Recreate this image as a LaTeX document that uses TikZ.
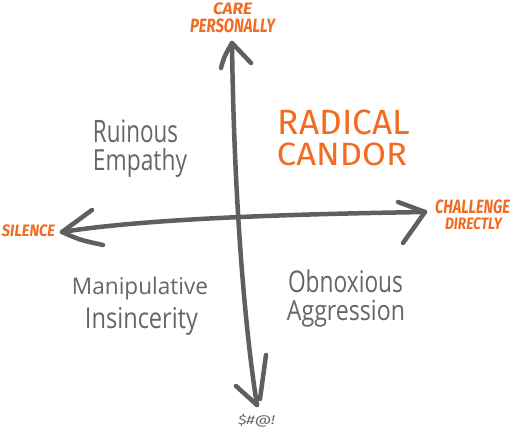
\documentclass[tikz,border=0pt]{standalone}
\usepackage{fontspec}
\usepackage{graphicx}
\setmainfont{Open Sans}
\newfontfamily\labelfont{Fira Sans}
\definecolor{candor}{HTML}{F26B21}
\definecolor{axisgray}{HTML}{5F5F5F}
\definecolor{textgray}{HTML}{666666}
\newcommand{\fitline}[3]{\resizebox*{#1pt}{#2pt}{#3}}
\tikzset{
  axis/.style={draw=axisgray, line width=4.5pt, line cap=round, line join=round},
  axislabel/.style={inner sep=0pt, text=candor, font=\labelfont\bfseries\itshape},
  quad/.style={inner sep=0pt, text=textgray, font=\rmfamily},
  big/.style={inner sep=0pt, text=candor, font=\labelfont}
}
\begin{document}
\begin{tikzpicture}[x=1pt,y=-1pt]
\useasboundingbox (0,0) rectangle (512,433);
\fill[white] (0,0) rectangle (512,433);
% axis end points
\coordinate (top) at (232,43);
\coordinate (bot) at (257,405);
\coordinate (left) at (62,232);
\coordinate (right) at (425,212);
\coordinate (tl) at (221,68);
\coordinate (tr) at (251,63);
\coordinate (bl) at (236,386);
\coordinate (br) at (266,355);
\coordinate (brend) at (260,399);
\coordinate (lu) at (92,210);
\coordinate (ll) at (103,245);
\coordinate (ru) at (398,202);
\coordinate (rl) at (403,243);
% axes
\draw[axis] (top) .. controls (234,200) and (245,330) .. (bot);
\draw[axis] (tl) .. controls (224,57) .. (top) -- (tr);
\draw[axis] (bl) -- (bot);
\draw[axis] (br) -- (brend);
\draw[axis] (left) .. controls (150,218) and (300,214) .. (right);
\draw[axis] (lu) -- (left) .. controls (80,240) .. (ll);
\draw[axis] (ru) -- (right) -- (rl);
% axis labels
\node[axislabel] (care) at (232.5,9) {\fitline{39}{12}{CARE}};
\node[axislabel] (pers) at (232.5,25.5) {\fitline{85}{14}{PERSONALLY}};
\node[axislabel] (sil) at (28.5,231) {\fitline{53}{12}{SILENCE}};
\node[axislabel] (chal) at (472.5,207) {\fitline{75}{14}{CHALLENGE}};
\node[axislabel] (dir) at (473.5,224) {\fitline{57}{12}{DIRECTLY}};
\node[inner sep=0pt, text=textgray, font=\labelfont\itshape] (swear) at (256.5,421) {\fitline{37}{13}{\$\#@!}};
% title
\node[big] (rad) at (344,122.5) {\fitline{132}{25}{RADICAL}};
\node[big] (can) at (342,154) {\fitline{130}{23}{CANDOR}};
% quadrants
\node[quad] (ruin) at (135.5,131.5) {\fitline{85}{23}{Ruinous}};
\node[quad] (emp) at (140,162.5) {\fitline{94}{29}{Empathy}};
\node[quad] (man) at (140,288.5) {\fitline{136}{23}{Manipulative}};
\node[quad] (ins) at (141.5,321) {\fitline{113}{28}{Insincerity}};
\node[quad] (obn) at (345.5,281.5) {\fitline{115}{23}{Obnoxious}};
\node[quad] (agg) at (346,313.5) {\fitline{118}{27}{Aggression}};
\end{tikzpicture}
\end{document}
